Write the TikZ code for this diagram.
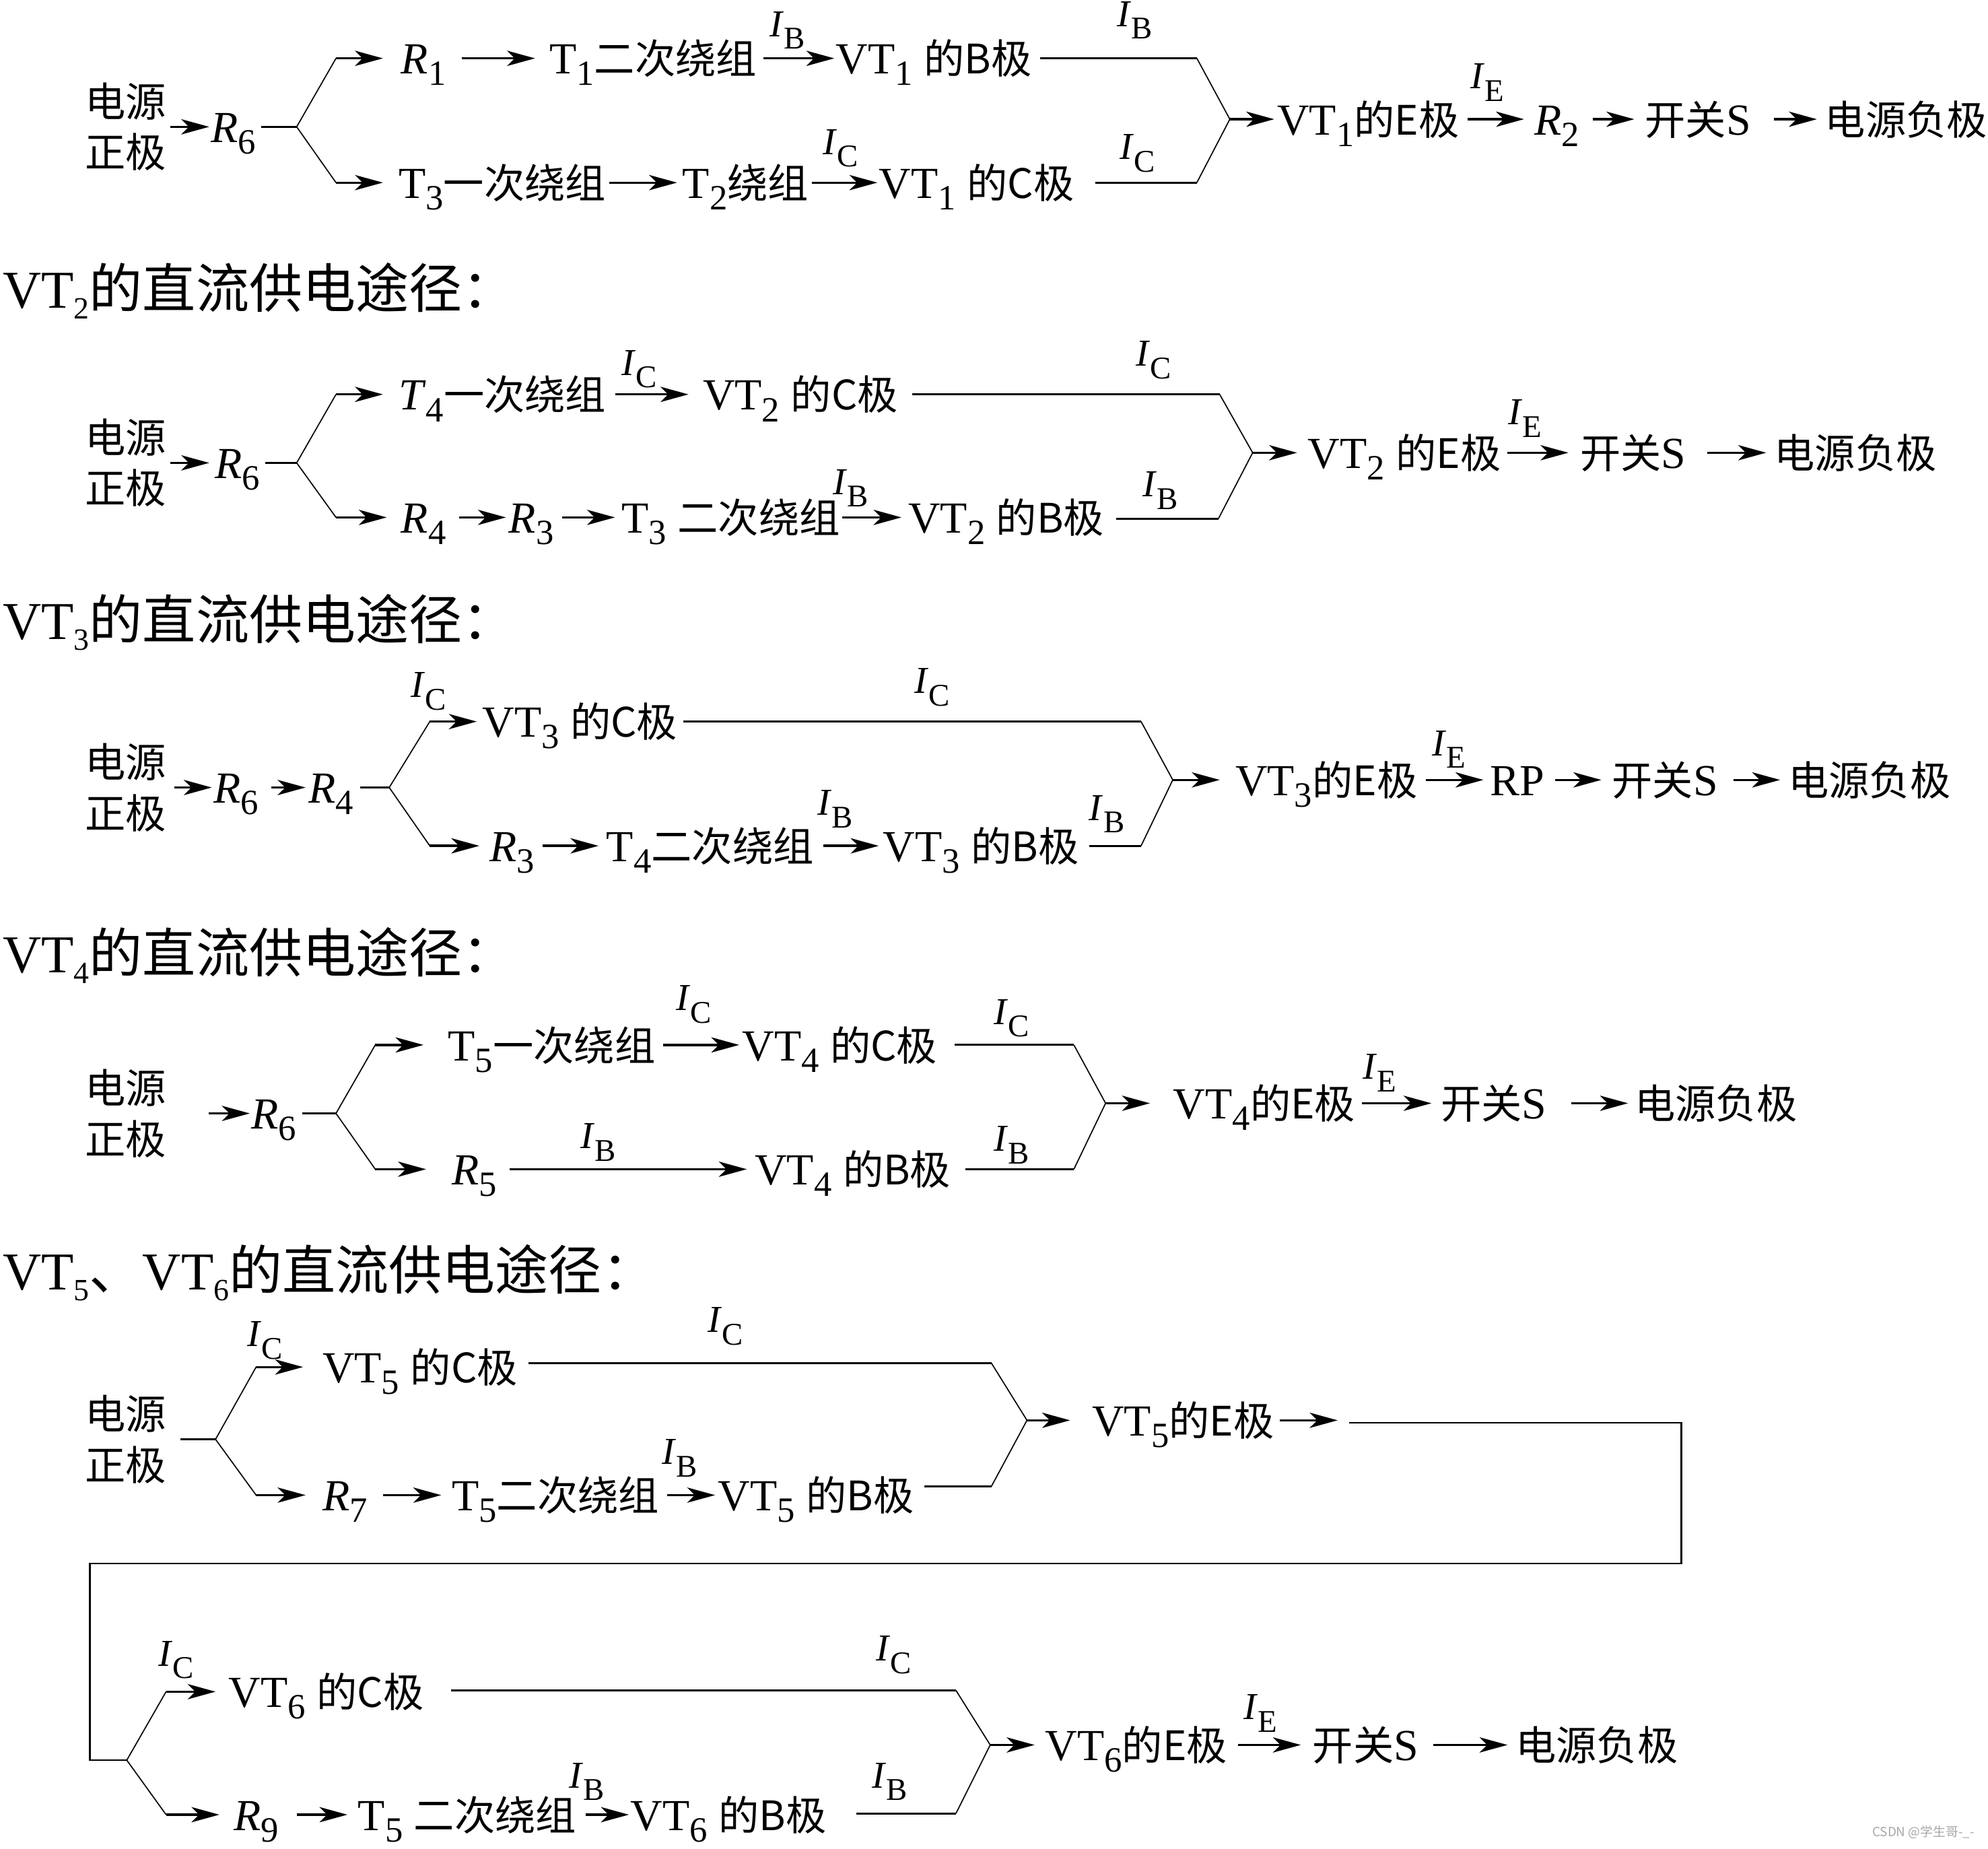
\documentclass[tikz,border=0pt]{standalone}
\usepackage{fontspec}
\setmainfont{Liberation Serif}
\newfontfamily\cjk[Scale=0.915]{Noto Sans CJK SC}
\newfontfamily\cjkh{Noto Sans CJK SC}
\usepackage{graphicx}
\usepackage{tikz}
\usetikzlibrary{arrows.meta,positioning,calc}

\newcommand\zh[1]{{\cjk #1}}
\newcommand\zhh[1]{{\cjkh #1}}
\newcommand\sub[1]{\raisebox{-0.26em}{\scalebox{0.8}{#1}}}
\newcommand\hsub[1]{\raisebox{-0.2em}{\scalebox{0.58}{#1}}}
\newcommand\cur[1]{\textit{I}\raisebox{-0.33em}{\scalebox{0.83}{#1}}}
\newcommand\rowfont{\fontsize{17.5}{21}\selectfont}
\newcommand\headfont{\fontsize{21}{25}\selectfont}
\newcommand\lblfont{\fontsize{15}{18}\selectfont}

\begin{document}
\begin{tikzpicture}[x=0.5pt, y=-0.5pt,
    txt/.style={anchor=west, inner sep=0pt, text height=14pt, text depth=1.7pt, font=\rowfont},
    src/.style={inner sep=0pt, align=center, font=\fontsize{17.5}{20}\selectfont},
    head/.style={anchor=base west, inner sep=0pt, font=\headfont},
    lbl/.style={inner sep=0pt, font=\lblfont},
    arr/.style={-{Stealth[length=11pt, width=6pt, inset=3pt]}, line width=0.9pt, shorten <=1pt, shorten >=1pt},
    bus/.style={line width=0.8pt},
    fork/.style={line width=0.45pt}]
    \useasboundingbox (0,0) rectangle (1568,1457.6);

    % VT1
    \node[src] (src1) at (99,100) {\zh{电源}\\\zh{正极}};
    \node[txt] (r6a) at (166,100) {\textit{R}\sub{6}};
    \coordinate (j1) at (234,100);
    \coordinate (j1t) at (265,46);
    \coordinate (j1b) at (265,144);
    \node[txt] (r1) at (316,46) {\textit{R}\sub{1}};
    \node[txt] (t1) at (433,46) {T\sub{1}\zh{二次绕组}};
    \node[txt] (vt1b) at (659,46) {VT\sub{1} \zh{的B极}};
    \coordinate (b1e) at (944,46);
    \node[txt] (t3a) at (314,144) {T\sub{3}\zh{一次绕组}};
    \node[txt] (t2) at (538,144) {T\sub{2}\zh{绕组}};
    \node[txt] (vt1c) at (693,144) {VT\sub{1} \zh{的C极}};
    \coordinate (c1e) at (944,144);
    \coordinate (m1) at (970,94);
    \node[txt] (vt1e) at (1007,94) {VT\sub{1}\zh{的E极}};
    \node[txt] (r2) at (1210,94) {\textit{R}\sub{2}};
    \node[txt] (s1) at (1297,94) {\zh{开关}S};
    \node[txt] (neg1) at (1439,94) {\zh{电源负极}};
    \node[lbl] (ib1a) at (621,24) {\cur{B}};
    \node[lbl] (ib1b) at (895,16) {\cur{B}};
    \node[lbl] (ic1a) at (663,117) {\cur{C}};
    \node[lbl] (ic1b) at (897,121) {\cur{C}};
    \node[lbl] (ie1) at (1173,65) {\cur{E}};

    \draw[arr, shorten <=1.5pt, shorten >=0.5pt] (src1.east) -- (r6a.west);
    \draw[bus] ($(r6a.east)+(2pt,0)$) -- (j1);
    \draw[fork] (j1t) -- (j1) -- (j1b);
    \draw[arr, shorten <=0pt, shorten >=7pt] (j1t) -- (r1.west);
    \draw[arr, shorten <=6pt, shorten >=5.5pt] (r1.east) -- (t1.west);
    \draw[arr, shorten <=2.5pt, shorten >=0.5pt] (t1.east) -- (vt1b.west);
    \draw[bus] ($(vt1b.east |- b1e)+(3pt,0)$) -- (b1e);
    \draw[arr, shorten <=0pt, shorten >=6pt] (j1b) -- (t3a.west);
    \draw[arr, shorten >=2pt] (t3a.east) -- (t2.west);
    \draw[arr, shorten >=0.5pt] (t2.east) -- (vt1c.west);
    \draw[bus] ($(vt1c.east |- c1e)+(8pt,0)$) -- (c1e);
    \draw[fork] (b1e) -- (m1) -- (c1e);
    \draw[arr, shorten <=0pt] (m1) -- (vt1e.west);
    \draw[arr, shorten <=3pt, shorten >=4pt] (vt1e.east) -- (r2.west);
    \draw[arr, shorten <=5pt, shorten >=4pt] (r2.east) -- (s1.west);
    \draw[arr, shorten <=9pt, shorten >=3pt] (s1.east) -- (neg1.west);

    % VT2
    \node[head] (h2) at (2,243) {VT\hsub{2}\zhh{的直流供电途径：}};
    \node[src] (src2) at (99,365) {\zh{电源}\\\zh{正极}};
    \node[txt] (r6b) at (169,365) {\textit{R}\sub{6}};
    \coordinate (j2) at (234,365);
    \coordinate (j2t) at (265,311);
    \coordinate (j2b) at (265,408);
    \node[txt] (t4a) at (314,311) {\textit{T}\sub{4}\zh{一次绕组}};
    \node[txt] (vt2c) at (554,311) {VT\sub{2} \zh{的C极}};
    \coordinate (c2e) at (962,311);
    \node[txt] (r4a) at (316,408) {\textit{R}\sub{4}};
    \node[txt] (r3a) at (401,408) {\textit{R}\sub{3}};
    \node[txt] (t3b) at (490,408) {T\sub{3} \zh{二次绕组}};
    \node[txt] (vt2b) at (716,408) {VT\sub{2} \zh{的B极}};
    \coordinate (b2e) at (961,409);
    \coordinate (m2) at (988,357);
    \node[txt] (vt2e) at (1031,357) {VT\sub{2} \zh{的E极}};
    \node[txt] (s2) at (1246,357) {\zh{开关}S};
    \node[txt] (neg2) at (1399,357) {\zh{电源负极}};
    \node[lbl] (ic2a) at (504,291) {\cur{C}};
    \node[lbl] (ic2b) at (910,284) {\cur{C}};
    \node[lbl] (ib2a) at (671,385) {\cur{B}};
    \node[lbl] (ib2b) at (915,387) {\cur{B}};
    \node[lbl] (ie2) at (1203,330) {\cur{E}};

    \draw[arr, shorten <=1.5pt, shorten >=2pt] (src2.east) -- (r6b.west);
    \draw[bus] ($(r6b.east)+(2pt,0)$) -- (j2);
    \draw[fork] (j2t) -- (j2) -- (j2b);
    \draw[arr, shorten <=0pt, shorten >=6pt] (j2t) -- (t4a.west);
    \draw[arr, shorten <=3.5pt, shorten >=5.5pt] (t4a.east) -- (vt2c.west);
    \draw[bus] ($(vt2c.east |- c2e)+(5.5pt,0)$) -- (c2e);
    \draw[arr, shorten <=0pt, shorten >=5.5pt] (j2b) -- (r4a.west);
    \draw[arr, shorten <=5pt, shorten >=1pt] (r4a.east) -- (r3a.west);
    \draw[arr, shorten <=3pt, shorten >=2.5pt] (r3a.east) -- (t3b.west);
    \draw[arr, shorten <=0.5pt, shorten >=2.5pt] (t3b.east) -- (vt2b.west);
    \draw[bus] ($(vt2b.east |- b2e)+(4.5pt,0)$) -- (b2e);
    \draw[fork] (c2e) -- (m2) -- (b2e);
    \draw[arr, shorten <=0pt, shorten >=4pt] (m2) -- (vt2e.west);
    \draw[arr, shorten <=2.5pt, shorten >=4.5pt] (vt2e.east) -- (s2.west);
    \draw[arr, shorten <=8pt, shorten >=3pt] (s2.east) -- (neg2.west);

    % VT3
    \node[head] (h3) at (2,504) {VT\hsub{3}\zhh{的直流供电途径：}};
    \node[src] (src3) at (99,621) {\zh{电源}\\\zh{正极}};
    \node[txt] (r6c) at (168,621) {\textit{R}\sub{6}};
    \node[txt] (r4b) at (243,621) {\textit{R}\sub{4}};
    \coordinate (j3) at (307,621);
    \coordinate (j3t) at (339,569);
    \coordinate (j3b) at (339,667);
    \node[txt] (vt3c) at (380,569) {VT\sub{3} \zh{的C极}};
    \coordinate (c3e) at (900,569);
    \node[txt] (r3b) at (386,667) {\textit{R}\sub{3}};
    \node[txt] (t4b) at (478,667) {T\sub{4}\zh{二次绕组}};
    \node[txt] (vt3b) at (696,667) {VT\sub{3} \zh{的B极}};
    \coordinate (b3e) at (900,667);
    \coordinate (m3) at (925,615);
    \node[txt] (vt3e) at (974,615) {VT\sub{3}\zh{的E极}};
    \node[txt] (rp) at (1175,615) {RP};
    \node[txt] (s3) at (1271,615) {\zh{开关}S};
    \node[txt] (neg3) at (1410,615) {\zh{电源负极}};
    \node[lbl] (ic3a) at (338,545) {\cur{C}};
    \node[lbl] (ic3b) at (735,542) {\cur{C}};
    \node[lbl] (ib3a) at (659,638) {\cur{B}};
    \node[lbl] (ib3b) at (873,642) {\cur{B}};
    \node[lbl] (ie3) at (1143,591) {\cur{E}};

    \draw[arr, shorten <=3pt, shorten >=0.5pt] (src3.east) -- (r6c.west);
    \draw[arr, shorten <=5pt, shorten >=1pt] (r6c.east) -- (r4b.west);
    \draw[bus] ($(r4b.east)+(2.5pt,0)$) -- (j3);
    \draw[fork] (j3t) -- (j3) -- (j3b);
    \draw[arr, shorten <=0pt, shorten >=2pt] (j3t) -- (vt3c.west);
    \draw[bus] ($(vt3c.east |- c3e)+(2pt,0)$) -- (c3e);
    \draw[arr, shorten <=0pt, shorten >=4pt] (j3b) -- (r3b.west);
    \draw[arr, shorten <=3pt, shorten >=3pt] (r3b.east) -- (t4b.west);
    \draw[arr, shorten <=3.5pt, shorten >=1.5pt] (t4b.east) -- (vt3b.west);
    \draw[bus] ($(vt3b.east |- b3e)+(4pt,0)$) -- (b3e);
    \draw[fork] (c3e) -- (m3) -- (b3e);
    \draw[arr, shorten <=0pt, shorten >=6pt] (m3) -- (vt3e.west);
    \draw[arr, shorten <=3pt, shorten >=2.5pt] (vt3e.east) -- (rp.west);
    \draw[arr, shorten <=4pt, shorten >=4pt] (rp.east) -- (s3.west);
    \draw[arr, shorten <=6pt, shorten >=3pt] (s3.east) -- (neg3.west);

    % VT4
    \node[head] (h4) at (2,767) {VT\hsub{4}\zhh{的直流供电途径：}};
    \node[src] (src4) at (99,878) {\zh{电源}\\\zh{正极}};
    \node[txt] (r6d) at (198,878) {\textit{R}\sub{6}};
    \coordinate (j4) at (265,878);
    \coordinate (j4t) at (296,824);
    \coordinate (j4b) at (296,922);
    \node[txt] (t5a) at (353,824) {T\sub{5}\zh{一次绕组}};
    \node[txt] (vt4c) at (585,824) {VT\sub{4} \zh{的C极}};
    \coordinate (c4e) at (847,824);
    \node[txt] (r5) at (356,922) {\textit{R}\sub{5}};
    \node[txt] (vt4b) at (595,922) {VT\sub{4} \zh{的B极}};
    \coordinate (b4e) at (847,922);
    \coordinate (m4) at (872,870);
    \node[txt] (vt4e) at (925,870) {VT\sub{4}\zh{的E极}};
    \node[txt] (s4) at (1136,870) {\zh{开关}S};
    \node[txt] (neg4) at (1289,870) {\zh{电源负极}};
    \node[lbl] (ic4a) at (547,792) {\cur{C}};
    \node[lbl] (ic4b) at (798,803) {\cur{C}};
    \node[lbl] (ib4a) at (472,901) {\cur{B}};
    \node[lbl] (ib4b) at (798,903) {\cur{B}};
    \node[lbl] (ie4) at (1088,846) {\cur{E}};

    \draw[arr, shorten <=16.5pt, shorten >=0.5pt] (src4.east) -- (r6d.west);
    \draw[bus] ($(r6d.east)+(2pt,0)$) -- (j4);
    \draw[fork] (j4t) -- (j4) -- (j4b);
    \draw[arr, shorten <=0pt, shorten >=9.5pt] (j4t) -- (t5a.west);
    \draw[arr, shorten <=3pt, shorten >=1pt] (t5a.east) -- (vt4c.west);
    \draw[bus] ($(vt4c.east |- c4e)+(6.5pt,0)$) -- (c4e);
    \draw[arr, shorten <=0pt, shorten >=10pt] (j4b) -- (r5.west);
    \draw[arr, shorten <=5pt, shorten >=3pt] (r5.east) -- (vt4b.west);
    \draw[bus] ($(vt4b.east |- b4e)+(5.5pt,0)$) -- (b4e);
    \draw[fork] (c4e) -- (m4) -- (b4e);
    \draw[arr, shorten <=0pt, shorten >=9pt] (m4) -- (vt4e.west);
    \draw[arr, shorten <=2.5pt, shorten >=3.5pt] (vt4e.east) -- (s4.west);
    \draw[arr, shorten <=9.5pt, shorten >=2.5pt] (s4.east) -- (neg4.west);

    % VT5 and VT6
    \node[head] (h5) at (2,1017) {VT\hsub{5}\zhh{、}VT\hsub{6}\zhh{的直流供电途径：}};
    \node[src] (src5) at (99,1135) {\zh{电源}\\\zh{正极}};
    \coordinate (j5) at (170,1135);
    \coordinate (j5t) at (202,1078);
    \coordinate (j5b) at (202,1179);
    \node[txt] (vt5c) at (254,1078) {VT\sub{5} \zh{的C极}};
    \coordinate (c5e) at (782,1075);
    \node[txt] (r7) at (254,1179) {\textit{R}\sub{7}};
    \node[txt] (t5b) at (356,1179) {T\sub{5}\zh{二次绕组}};
    \node[txt] (vt5b) at (566,1179) {VT\sub{5} \zh{的B极}};
    \coordinate (b5e) at (782,1172);
    \coordinate (m5) at (810,1120);
    \node[txt] (vt5e) at (861,1120) {VT\sub{5}\zh{的E极}};
    \coordinate (w0) at (1055,1120);
    \coordinate (w1) at (1064,1122);
    \coordinate (w2) at (1326,1122);
    \coordinate (w3) at (1326,1233);
    \coordinate (w4) at (71,1233);
    \coordinate (w5) at (71,1388);
    \node[lbl] (ic5a) at (209,1057) {\cur{C}};
    \node[lbl] (ic5b) at (572,1046) {\cur{C}};
    \node[lbl] (ib5a) at (536,1150) {\cur{B}};

    \draw[bus] ($(src5.east)+(5.5pt,0)$) -- (j5);
    \draw[fork] (j5t) -- (j5) -- (j5b);
    \draw[arr, shorten <=0pt, shorten >=7.5pt] (j5t) -- (vt5c.west);
    \draw[bus] ($(vt5c.east |- c5e)+(4pt,0)$) -- (c5e);
    \draw[arr, shorten <=0pt, shorten >=6.5pt] (j5b) -- (r7.west);
    \draw[arr, shorten <=6pt, shorten >=4pt] (r7.east) -- (t5b.west);
    \draw[arr, shorten <=3pt, shorten >=1pt] (t5b.east) -- (vt5b.west);
    \draw[bus] ($(vt5b.east |- b5e)+(4pt,0)$) -- (b5e);
    \draw[fork] (c5e) -- (m5) -- (b5e);
    \draw[arr, shorten <=0pt, shorten >=8.5pt] (m5) -- (vt5e.west);
    \draw[arr, shorten <=2pt, shorten >=0pt] (vt5e.east) -- (w0);

    % wire down to VT6
    \coordinate (j6) at (100,1388);
    \draw[line width=0.7pt] (w1) -- (w2) -- (w3) -- (w4) -- (w5) -- (j6);

    \coordinate (j6t) at (131,1334);
    \coordinate (j6b) at (131,1431);
    \node[txt] (vt6c) at (180,1334) {VT\sub{6} \zh{的C极}};
    \coordinate (c6e) at (754,1333);
    \node[txt] (r9) at (184,1431) {\textit{R}\sub{9}};
    \node[txt] (t5c) at (282,1431) {T\sub{5} \zh{二次绕组}};
    \node[txt] (vt6b) at (497,1431) {VT\sub{6} \zh{的B极}};
    \coordinate (b6e) at (754,1430);
    \coordinate (m6) at (781,1376);
    \node[txt] (vt6e) at (824,1376) {VT\sub{6}\zh{的E极}};
    \node[txt] (s6) at (1035,1376) {\zh{开关}S};
    \node[txt] (neg6) at (1195,1376) {\zh{电源负极}};
    \node[lbl] (ic6a) at (139,1309) {\cur{C}};
    \node[lbl] (ic6b) at (705,1305) {\cur{C}};
    \node[lbl] (ib6a) at (463,1405) {\cur{B}};
    \node[lbl] (ib6b) at (702,1405) {\cur{B}};
    \node[lbl] (ie6) at (994,1351) {\cur{E}};

    \draw[fork] (j6t) -- (j6) -- (j6b);
    \draw[arr, shorten <=0pt, shorten >=5pt] (j6t) -- (vt6c.west);
    \draw[bus] ($(vt6c.east |- c6e)+(10.5pt,0)$) -- (c6e);
    \draw[arr, shorten <=0pt, shorten >=5.5pt] (j6b) -- (r9.west);
    \draw[arr, shorten <=7pt, shorten >=4pt] (r9.east) -- (t5c.west);
    \draw[arr, shorten <=3.5pt, shorten >=0.5pt] (t5c.east) -- (vt6b.west);
    \draw[bus] ($(vt6b.east |- b6e)+(11.5pt,0)$) -- (b6e);
    \draw[fork] (c6e) -- (m6) -- (b6e);
    \draw[arr, shorten <=0pt, shorten >=4pt] (m6) -- (vt6e.west);
    \draw[arr, shorten <=4pt, shorten >=4.5pt] (vt6e.east) -- (s6.west);
    \draw[arr, shorten <=5.5pt, shorten >=3pt] (s6.east) -- (neg6.west);

    \node[inner sep=0pt, text=gray!70, font=\fontsize{5}{5}\selectfont\cjkh] (mark) at (1517,1445) {CSDN @学生哥-\_-};
\end{tikzpicture}
\end{document}
